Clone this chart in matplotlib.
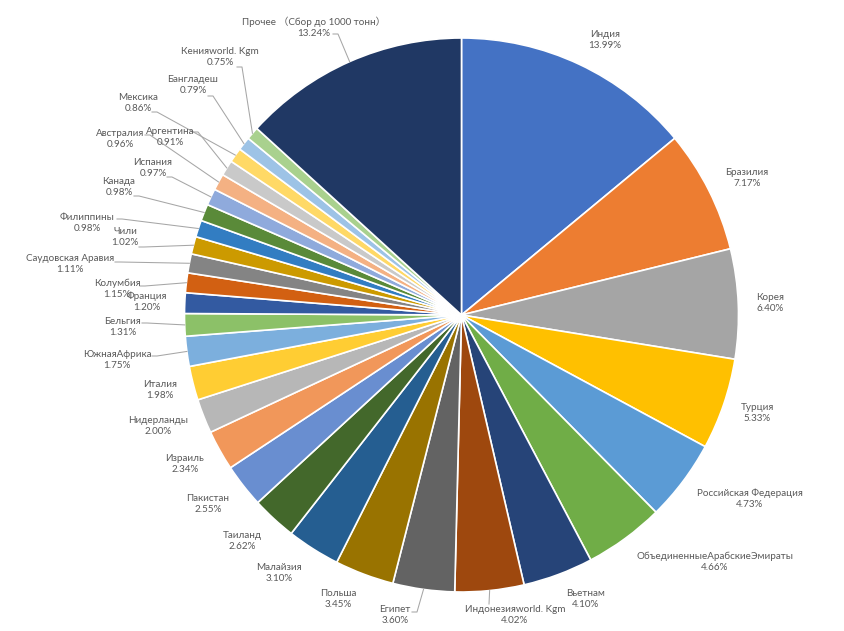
import numpy as np
import matplotlib.pyplot as plt

plt.rcParams['font.family'] = ['Lato', 'Noto Sans CJK SC', 'DejaVu Sans']

# данные (доля, %)
countries = ['Индия', 'Бразилия', 'Корея', 'Турция', 'Российская Федерация',
             'ОбъединенныеАрабскиеЭмираты', 'Вьетнам', 'Индонезияworld. Kgm',
             'Египет', 'Польша', 'Малайзия', 'Таиланд', 'Пакистан', 'Израиль',
             'Нидерланды', 'Италия', 'ЮжнаяАфрика', 'Бельгия', 'Франция',
             'Колумбия', 'Саудовская Аравия', 'Чили', 'Филиппины', 'Канада',
             'Испания', 'Австралия', 'Аргентина', 'Мексика', 'Бангладеш',
             'Кенияworld. Kgm', 'Прочее （Сбор до 1000 тонн）']
shares = [13.99, 7.17, 6.40, 5.33, 4.73, 4.66, 4.10, 4.02, 3.60, 3.45, 3.10,
          2.62, 2.55, 2.34, 2.00, 1.98, 1.75, 1.31, 1.20, 1.15, 1.11, 1.02,
          0.98, 0.98, 0.97, 0.96, 0.91, 0.86, 0.79, 0.75, 13.24]

colors = ['#4472C4', '#ED7D31', '#A5A5A5', '#FFC000', '#5B9BD5', '#70AD47',
          '#264478', '#9E480E', '#636363', '#997300', '#255E91', '#43682B',
          '#698ED0', '#F1975A', '#B7B7B7', '#FFCD33', '#7CAFDD', '#8CC168',
          '#335AA1', '#D26012', '#848484', '#CC9A00', '#327DC2', '#5A8A39',
          '#8FAADC', '#F4B183', '#C9C9C9', '#FFD966', '#9DC3E6', '#A9D18E',
          '#203864']

# положение подписей (в пикселях картинки)
label_pos = [(605, 40), (747, 178), (770, 303), (757, 413), (750, 499),
             (715, 562), (586, 599), (515, 615), (395, 615), (338, 599),
             (279, 573), (242, 541), (208, 504), (185, 464), (158, 426),
             (160, 390), (117, 360), (123, 327), (147, 302), (117, 289),
             (70, 264), (125, 237), (87, 223), (119, 187), (153, 168),
             (120, 139), (170, 137), (138, 103), (193, 85), (220, 57),
             (314, 27)]

# начала выносок
leaders = {7: (489, 604), 8: (412, 612), 16: (152, 356), 17: (142, 323),
           19: (140, 286), 20: (115, 262), 21: (139, 247), 22: (117, 219),
           23: (134, 196), 24: (167, 177), 25: (145, 135), 26: (193, 132),
           27: (152, 112), 28: (208, 96), 29: (237, 67), 30: (333, 34)}

W, H = 845, 631
cx, cy, R = 461.5, 315, 277

fig = plt.figure(figsize=(W / 100, H / 100), dpi=100)
ax = fig.add_axes([0, 0, 1, 1])

wedges, _ = ax.pie(shares, colors=colors, startangle=-90, counterclock=True,
                   center=(cx, cy), radius=R,
                   wedgeprops=dict(edgecolor='white', linewidth=1.2))

ax.set_xlim(0, W)
ax.set_ylim(H, 0)
ax.set_aspect('equal')
ax.axis('off')

for i, (w, name, val) in enumerate(zip(wedges, countries, shares)):
    lx, ly = label_pos[i]
    ax.text(lx, ly, f'{name}\n{val:.2f}%', ha='center', va='center',
            fontsize=7.1, color='#595959', linespacing=1.3)
    if i in leaders:
        sx, sy = leaders[i]
        mid = np.deg2rad((w.theta1 + w.theta2) / 2)
        ex, ey = cx + R * np.cos(mid), cy + R * np.sin(mid)
        if i == 7:
            xs, ys = [sx, ex], [sy, ey]
        else:
            step = 5 if ex > sx else -5
            xs, ys = [sx, sx + step, ex], [sy, sy, ey]
        ax.plot(xs, ys, color='#A6A6A6', linewidth=0.75)

fig.savefig('out.png', dpi=100)
